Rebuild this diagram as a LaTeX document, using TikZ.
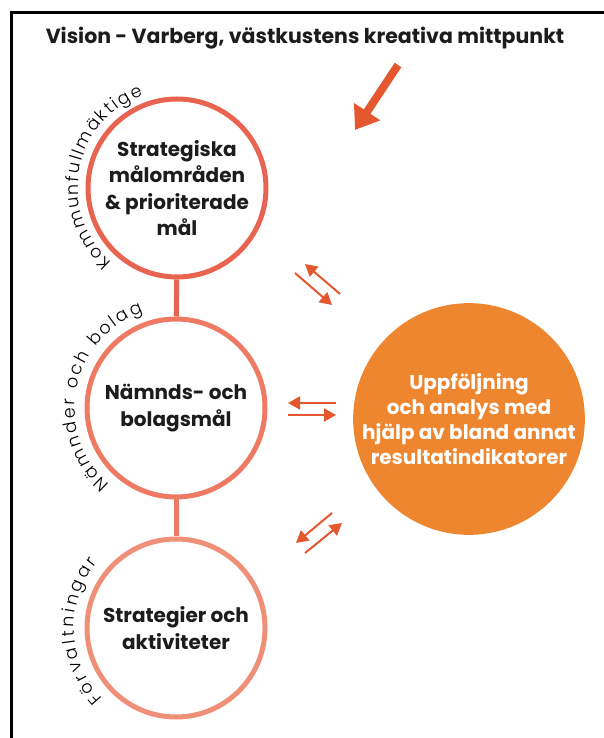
\documentclass[tikz,border=0pt]{standalone}
\usepackage{fontspec}
\setmainfont{Poppins}
\newfontfamily\thinfont{Poppins Light}
\usetikzlibrary{arrows.meta,decorations.text}
\definecolor{ink}{HTML}{1C1C1C}
\definecolor{ringone}{HTML}{E96450}
\definecolor{ringtwo}{HTML}{EE7A63}
\definecolor{ringthree}{HTML}{F08F78}
\definecolor{followup}{HTML}{EE8630}
\definecolor{arrowred}{HTML}{E4572F}

\begin{document}
\begin{tikzpicture}[x=1pt,y=1pt,
  ring node/.style={circle,draw,line width=5pt,minimum size=178pt,inner sep=0pt,
    align=center,text=ink,font=\bfseries\fontsize{20}{26.5}\selectfont},
  swap arrow/.style={arrowred,line width=2pt,-{Triangle[length=12pt,width=13pt]}},
  ring label/.style={decorate,decoration={text along path,text align=fit to path,
    text={|\thinfont\fontsize{17.5}{17.5}\selectfont|#1}}}]

  \useasboundingbox (0,0) rectangle (604,738);
  \draw[line width=3.5pt] (11.5,0) -- (11.5,725.5) -- (604,725.5);

  \node[text=ink,font=\bfseries\fontsize{20.5}{20.5}\selectfont] (vision) at (305,700)
    {Vision - Varberg, västkustens kreativa mittpunkt};

  \node[ring node,draw=ringone] (goals) at (177,550)
    {Strategiska\\målområden\\\& prioriterade\\mål};
  \node[ring node,draw=ringtwo] (boards) at (176,330) {Nämnds- och\\bolagsmål};
  \node[ring node,draw=ringthree] (admin) at (176,110) {Strategier och\\aktiviteter};
  \node[circle,fill=followup,minimum size=226pt,inner sep=0pt,align=center,text=white,
    font=\bfseries\fontsize{20}{25}\selectfont] (followup) at (469,319)
    {Uppföljning\\och analys med\\hjälp av bland annat\\resultatindikatorer};

  \draw[ringone,line width=5pt] (goals) -- (boards);
  \draw[ringtwo,line width=5pt] (boards) -- (admin);

  \path[ring label=Kommunfullmäktige]
    ([shift={(229:99)}]goals.center) arc[start angle=229,end angle=110,radius=99];
  \path[ring label=Nämnder och bolag]
    ([shift={(229:101)}]boards.center) arc[start angle=229,end angle=109,radius=101];
  \path[ring label=Förvaltningar]
    ([shift={(224:102)}]admin.center) arc[start angle=224,end angle=140,radius=102];

  \coordinate (vtail) at (398,673);
  \coordinate (vtip) at (355,608);
  \draw[arrowred,line width=8pt,-{Triangle[length=22pt,width=30pt]}] (vtail) -- (vtip);

  \coordinate (a1) at (340,444); \coordinate (b1) at (305,474);
  \coordinate (a2) at (295,465); \coordinate (b2) at (332,433);
  \coordinate (a3) at (336,335); \coordinate (b3) at (288,335);
  \coordinate (a4) at (288,323); \coordinate (b4) at (336,323);
  \coordinate (a5) at (332,225); \coordinate (b5) at (296,195);
  \coordinate (a6) at (305,185); \coordinate (b6) at (342,215);
  \foreach \i in {1,...,6}
    \draw[swap arrow] (a\i) -- (b\i);
\end{tikzpicture}
\end{document}
